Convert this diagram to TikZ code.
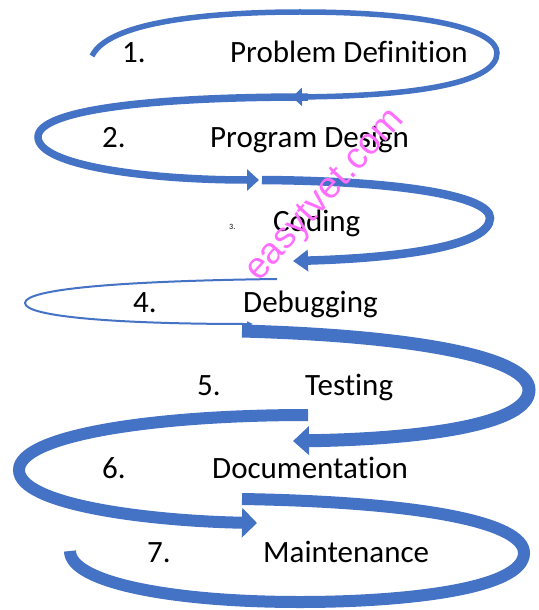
\documentclass[tikz,border=0pt]{standalone}
\usepackage{fontspec}
\setmainfont{Carlito}[Ligatures=NoCommon]
\newfontfamily\wmfont{Liberation Sans}
\usetikzlibrary{arrows.meta}
\definecolor{arcblue}{HTML}{4472C4}
\definecolor{wmpink}{RGB}{255,110,255}

\begin{document}
\begin{tikzpicture}
  [
   x=1pt,y=-1pt,
   lbl/.style={anchor=base west,inner sep=0pt,font=\fontsize{31}{32}\selectfont},
   tiny/.style={anchor=base west,inner sep=0pt,font=\fontsize{8}{9}\selectfont},
   arc/.style={draw=arcblue,line cap=butt},
   wm/.style={text=wmpink,font=\wmfont\fontsize{37}{38}\selectfont,rotate=48,inner sep=0pt}
  ]
   \useasboundingbox (0,0) rectangle (538,610);

   % turns of the spiral
   \draw[arc,line width=5.5pt,-{Triangle[length=10pt,width=18pt]}]
     (92,56) .. controls (110,18) and (230,12) .. (300,12)
     .. controls (430,12) and (497,30) .. (497,53)
     .. controls (497,82) and (420,96) .. (292,97);
   \draw[arc,line width=7.5pt,-{Triangle[length=12pt,width=21pt]}]
     (308,97) .. controls (150,97) and (38,110) .. (38,137)
     .. controls (38,166) and (150,180) .. (259,180);
   \draw[arc,line width=8.5pt,-{Triangle[length=15pt,width=21pt]}]
     (262,180) .. controls (400,181) and (490,196) .. (490,218)
     .. controls (490,246) and (400,258) .. (293,261);
   \draw[arc,line width=2pt,-{Triangle[length=6pt,width=5pt]}]
     (277,279) .. controls (120,281) and (25,289) .. (25,303)
     .. controls (25,317) and (120,324) .. (253,324);
   \draw[arc,line width=13pt,-{Triangle[length=16pt,width=28pt]}]
     (242,331) .. controls (420,336) and (529,358) .. (529,390)
     .. controls (529,425) and (420,439) .. (293,441);
   \draw[arc,line width=12pt,-{Triangle[length=15pt,width=29pt]}]
     (308,415) .. controls (150,415) and (19,436) .. (19,470)
     .. controls (19,505) and (150,521) .. (257,523);
   \draw[arc,line width=12pt]
     (242,499) .. controls (420,502) and (524,522) .. (524,553)
     .. controls (524,590) and (400,602) .. (300,602)
     .. controls (170,602) and (70,582) .. (70,551);

   % steps
   \node[lbl] (n1) at (122,63) {1.};
   \node[lbl] (s1) at (230,63) {Problem Definition};
   \node[lbl] (n2) at (102,147) {2.};
   \node[lbl] (s2) at (210,147) {Program Design};
   \node[tiny] (n3) at (229,229) {3.};
   \node[lbl] (s3) at (273,231) {Coding};
   \node[lbl] (n4) at (133,312) {4.};
   \node[lbl] (s4) at (243,312) {Debugging};
   \node[lbl] (n5) at (197,395) {5.};
   \node[lbl] (s5) at (305,395) {Testing};
   \node[lbl] (n6) at (102,478) {6.};
   \node[lbl] (s6) at (212,478) {Documentation};
   \node[lbl] (n7) at (147,562) {7.};
   \node[lbl] (s7) at (263,562) {Maintenance};

   \node[wm] (mark) at (326,196) {easytvet.com};
\end{tikzpicture}
\end{document}
